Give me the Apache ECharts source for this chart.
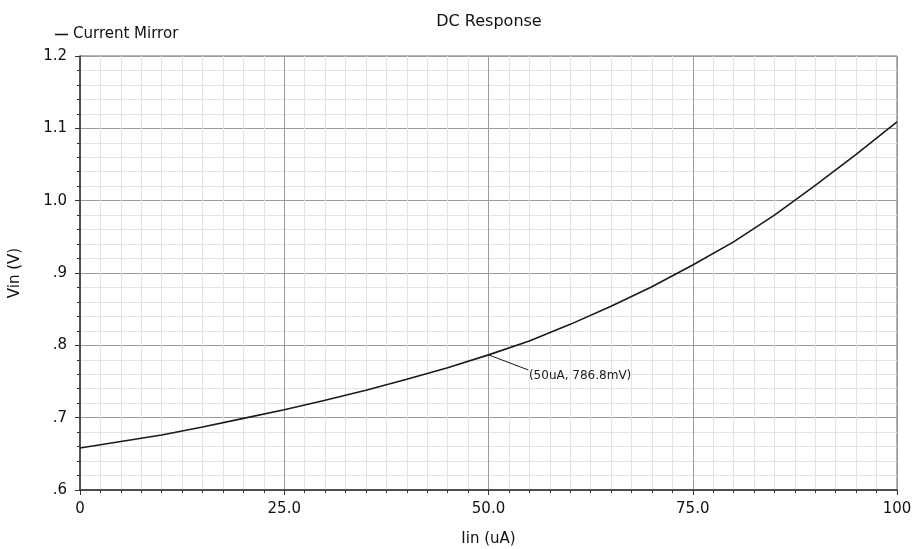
<!DOCTYPE html>
<html>
<head>
<meta charset="utf-8">
<script src="https://cdn.jsdelivr.net/npm/echarts@6/dist/echarts.min.js"></script>
<style>
  html, body { margin: 0; padding: 0; background: #fff; }
  #main { width: 913px; height: 549px; }
</style>
</head>
<body>
<div id="main"></div>
<script>
// sweep values
const iinValues = [0, 5, 10, 15, 20, 25, 30, 35, 40, 45, 50, 55, 60, 65, 70, 75, 80, 85, 90, 95, 100];
const vinValues = [0.658, 0.667, 0.676, 0.687, 0.699, 0.711, 0.724, 0.738, 0.753, 0.769, 0.7868,
  0.806, 0.829, 0.854, 0.881, 0.911, 0.943, 0.980, 1.021, 1.064, 1.109];
const markerPoint = [50, 0.7868];
const markerText = '(50uA, 786.8mV)';

const seriesData = iinValues.map((x, i) => [x, vinValues[i]]);
const font = 'DejaVu Sans';

const myChart = echarts.init(document.getElementById('main'));

const option = {
  animation: false,
  backgroundColor: '#fff',
  title: {
    text: 'DC Response',
    left: 484,
    textAlign: 'center',
    top: 9,
    textStyle: { fontFamily: font, fontSize: 16, fontWeight: 'normal', color: '#111' }
  },
  legend: {
    left: 50,
    top: 22,
    icon: 'rect',
    itemWidth: 13,
    itemHeight: 1.6,
    textStyle: { fontFamily: font, fontSize: 15, color: '#111' },
    data: ['Current Mirror']
  },
  grid: {
    left: 80,
    right: 16,
    top: 56,
    bottom: 59,
    outerBoundsMode: 'none',
    show: true,
    borderColor: '#666',
    borderWidth: 1
  },
  xAxis: {
    type: 'value',
    min: 0,
    max: 100,
    interval: 25,
    name: 'Iin (uA)',
    nameLocation: 'middle',
    nameGap: 42,
    nameTextStyle: { fontFamily: font, fontSize: 15, color: '#111' },
    axisLine: { show: true, lineStyle: { color: '#333', width: 1.5 } },
    axisTick: { show: true, length: 5, lineStyle: { color: '#333' } },
    minorTick: { show: true, splitNumber: 10, length: 3, lineStyle: { color: '#333' } },
    axisLabel: {
      margin: 12,
      fontFamily: font, fontSize: 15, color: '#111',
      formatter: v => (v === 0 || v === 100) ? String(v) : v.toFixed(1)
    },
    splitLine: { show: true, lineStyle: { color: '#9a9a9a', width: 1 } },
    minorSplitLine: { show: true, lineStyle: { color: '#e2e2e2', width: 1 } }
  },
  yAxis: {
    type: 'value',
    min: 0.6,
    max: 1.2,
    interval: 0.1,
    name: 'Vin (V)',
    nameLocation: 'middle',
    nameGap: 57,
    nameRotate: 90,
    nameTextStyle: { fontFamily: font, fontSize: 15, color: '#111' },
    axisLine: { show: true, lineStyle: { color: '#333', width: 1.5 } },
    axisTick: { show: true, length: 5, lineStyle: { color: '#333' } },
    minorTick: { show: true, splitNumber: 5, length: 3, lineStyle: { color: '#333' } },
    axisLabel: {
      margin: 13,
      fontFamily: font, fontSize: 15, color: '#111',
      formatter: v => {
        const s = v.toFixed(1);
        return v < 1 ? s.replace(/^0/, '') : s;
      }
    },
    splitLine: { show: true, lineStyle: { color: '#9a9a9a', width: 1 } },
    minorSplitLine: { show: true, lineStyle: { color: '#e2e2e2', width: 1 } }
  },
  series: [
    {
      name: 'Current Mirror',
      type: 'line',
      data: seriesData,
      symbol: 'none',
      smooth: false,
      lineStyle: { color: '#1a1a1a', width: 1.6 },
      itemStyle: { color: '#1a1a1a' },
      markLine: {
        silent: true,
        symbol: 'none',
        animation: false,
        lineStyle: { color: '#1a1a1a', width: 1, type: 'solid' },
        label: { show: false },
        data: [[{ coord: markerPoint }, { coord: [54.87, 0.766] }]]
      },
      markPoint: {
        silent: true,
        symbol: 'circle',
        symbolSize: 0,
        label: {
          show: true,
          position: 'right',
          distance: 0,
          formatter: markerText,
          fontFamily: font, fontSize: 12, color: '#222'
        },
        data: [{ coord: [54.95, 0.7576] }]
      }
    }
  ]
};

myChart.setOption(option);
</script>
</body>
</html>
